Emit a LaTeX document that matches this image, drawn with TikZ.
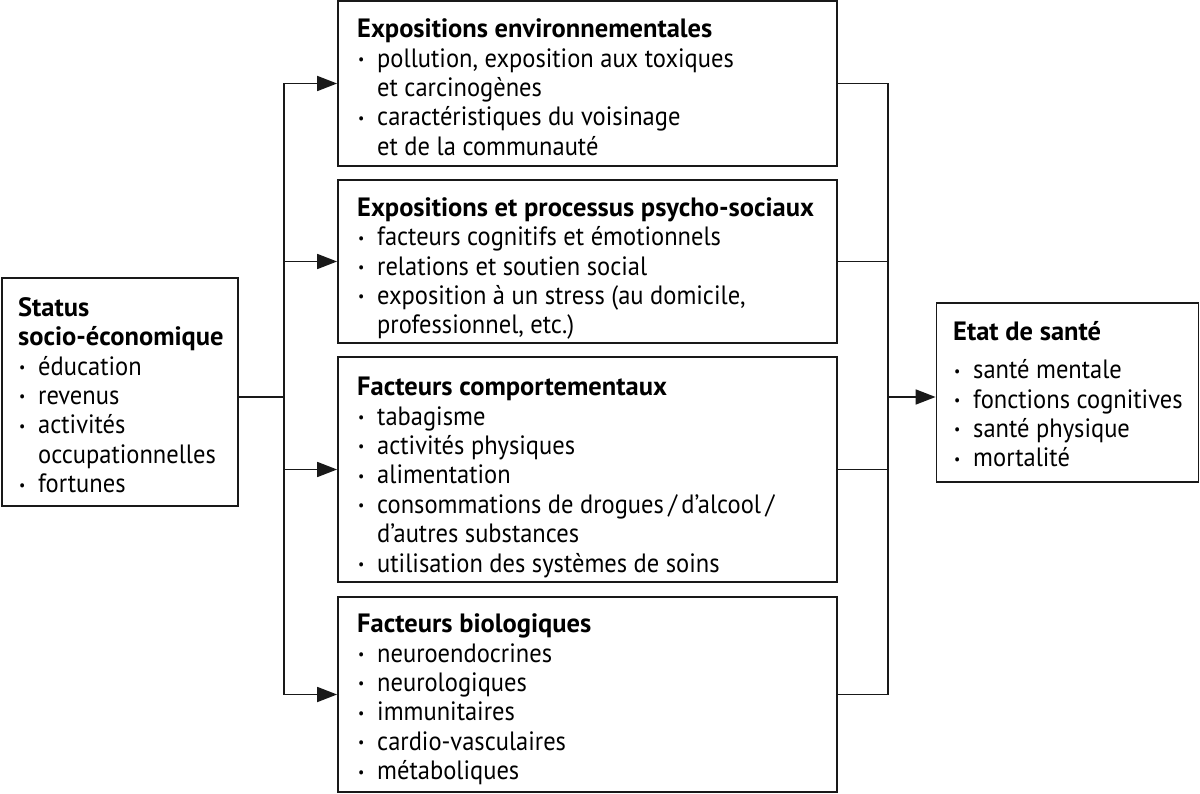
\documentclass[tikz,border=0pt]{standalone}
\usepackage{fontspec}
\setmainfont{PT Sans}[FakeStretch=0.925, BoldFeatures={FakeStretch=1.0}]
\usetikzlibrary{arrows.meta}
\newcommand{\itm}[1]{\makebox[20pt][l]{\hspace{1pt}\raisebox{0.1em}{\fontsize{15}{15}\selectfont\char"2022}}#1}
\newcommand{\cnt}[1]{\hspace{20pt}#1}
\tikzset{
  box/.style={draw=black!90, line width=1.8pt, inner sep=0pt},
  txt/.style={anchor=north west, inner sep=0pt, align=left, font={\fontsize{26.5}{29.4}\selectfont}},
  conn/.style={draw=black!90, line width=1.8pt},
  arr/.style={conn, -{Triangle[length=20pt,width=15pt]}}
}
\begin{document}
\begin{tikzpicture}[x=1pt,y=-1pt]
\useasboundingbox (0,0) rectangle (1200,794);
% boxes
\node[box, minimum width=236pt, minimum height=228pt] (L) at (120,392) {};
\node[box, minimum width=499pt, minimum height=165pt] (M1) at (587.5,83.5) {};
\node[box, minimum width=499pt, minimum height=163pt] (M2) at (587.5,261.5) {};
\node[box, minimum width=499pt, minimum height=225pt] (M3) at (587.5,469.5) {};
\node[box, minimum width=499pt, minimum height=195pt] (M4) at (587.5,694.5) {};
\node[box, minimum width=262pt, minimum height=179pt] (R) at (1067.5,392.5) {};
% texts
\node[txt] (tL) at (18,295.5) {\strut\textbf{Status}\\\textbf{socio-économique}\\
\itm{éducation}\\\itm{revenus}\\\itm{activités}\\\cnt{occupationnelles}\\\itm{fortunes}};
\node[txt] (t1) at (357,17) {\strut\textbf{Expositions environnementales}\\
\itm{pollution, exposition aux toxiques}\\\cnt{et carcinogènes}\\
\itm{caractéristiques du voisinage}\\\cnt{et de la communauté}};
\node[txt] (t2) at (357,195.5) {\strut\textbf{Expositions et processus psycho-sociaux}\\
\itm{facteurs cognitifs et émotionnels}\\\itm{relations et soutien social}\\
\itm{exposition à un stress (au domicile,}\\\cnt{professionnel, etc.)}};
\node[txt] (t3) at (357,375) {\strut\textbf{Facteurs comportementaux}\\
\itm{tabagisme}\\\itm{activités physiques}\\\itm{alimentation}\\
\itm{consommations de drogues\,/\,d’alcool\,/}\\\cnt{d’autres substances}\\
\itm{utilisation des systèmes de soins}};
\node[txt] (t4) at (357,612) {\strut\textbf{Facteurs biologiques}\\
\itm{neuroendocrines}\\\itm{neurologiques}\\\itm{immunitaires}\\
\itm{cardio-vasculaires}\\\itm{métaboliques}};
\node[txt] (tR) at (953,319.5) {\strut\textbf{Etat de santé}\\[9pt]
\itm{santé mentale}\\\itm{fonctions cognitives}\\\itm{santé physique}\\\itm{mortalité}};
% connectors
\coordinate (tl) at (284,397);
\coordinate (tr) at (888,397);
\draw[conn] (L.east |- tl) -- (tl);
\draw[conn] (M1.west -| tl) -- (M4.west -| tl);
\foreach \m in {M1,M2,M3,M4} {
  \draw[arr] (\m.west -| tl) -- (\m.west);
  \draw[conn] (\m.east) -- (\m.east -| tr);
}
\draw[conn] (M1.east -| tr) -- (M4.east -| tr);
\draw[arr] (tr) -- (R.west |- tr);
\end{tikzpicture}
\end{document}
